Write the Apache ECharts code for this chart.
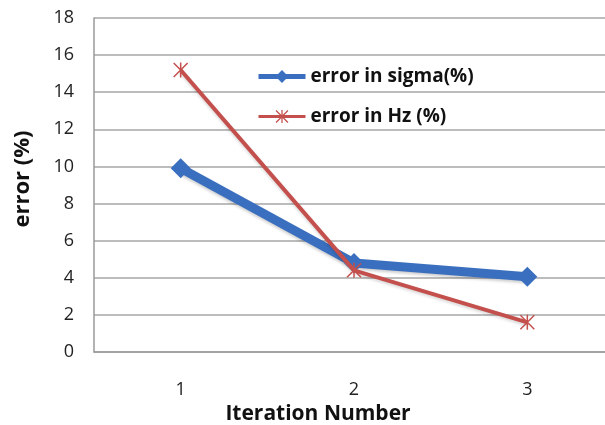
<!DOCTYPE html>
<html>
<head>
<meta charset="utf-8">
<script src="https://cdn.jsdelivr.net/npm/echarts@6/dist/echarts.min.js"></script>
<style>
  html, body { margin: 0; padding: 0; background: #fff; }
  #chart { width: 605px; height: 425px; }
</style>
</head>
<body>
<div id="chart"></div>
<script>
// Iteration numbers on the x axis
const iterations = ['1', '2', '3'];
// Error values in percent for each iteration
const errorSigma = [9.9, 4.8, 4.05];
const errorHz = [15.2, 4.4, 1.6];
const seriesNames = ['error in sigma(%)', 'error in Hz (%)'];

// Six-armed asterisk marker built from three thin bars
const asterisk = 'path://M0,0.7L0.7,0L10,9.3L9.3,10Z M9.3,0L10,0.7L0.7,10L0,9.3Z M4.5,0L5.5,0L5.5,10L4.5,10Z';

const font = 'Open Sans, sans-serif';
const blue = '#3a6fc0';
const red = '#c4504d';
const chart = echarts.init(document.getElementById('chart'), null, { renderer: 'canvas' });

chart.setOption({
  animation: false,
  backgroundColor: '#ffffff',
  grid: { left: 94, top: 18, width: 520, height: 334, outerBoundsMode: 'none', containLabel: false },
  legend: {
    orient: 'vertical',
    left: 251,
    top: 62,
    itemWidth: 47,
    itemHeight: 16,
    itemGap: 21,
    textStyle: { fontFamily: font, fontWeight: 'bold', fontSize: 19, color: '#111' },
    data: [
      { name: seriesNames[0], lineStyle: { width: 5, color: blue } },
      { name: seriesNames[1], lineStyle: { width: 3, color: red } }
    ]
  },
  xAxis: {
    type: 'category',
    data: iterations,
    boundaryGap: true,
    axisLine: { lineStyle: { color: '#9a9a9a', width: 1.5 } },
    axisTick: { show: false },
    axisLabel: { margin: 29, fontFamily: font, fontSize: 18, color: '#222' },
    name: 'Iteration Number',
    nameLocation: 'middle',
    nameGap: 52,
    nameTextStyle: { fontFamily: font, fontWeight: 'bold', fontSize: 21, color: '#111', padding: [0, 72, 0, 0] }
  },
  yAxis: {
    type: 'value',
    min: 0,
    max: 18,
    interval: 2,
    axisLine: { show: true, lineStyle: { color: '#9a9a9a', width: 1.5 } },
    axisTick: { show: false },
    axisLabel: { margin: 20, fontFamily: font, fontSize: 18, color: '#222' },
    splitLine: { lineStyle: { color: '#a6a6a6', width: 1.5 } },
    name: 'error (%)',
    nameLocation: 'middle',
    nameRotate: 90,
    nameGap: 60,
    nameTextStyle: { fontFamily: font, fontWeight: 'bold', fontSize: 22, color: '#111', padding: [0, 0, 0, 12] }
  },
  series: [
    {
      name: seriesNames[0],
      type: 'line',
      data: errorSigma,
      symbol: 'diamond',
      symbolSize: 20,
      lineStyle: { color: blue, width: 9, shadowColor: 'rgba(0,0,0,0.2)', shadowBlur: 3, shadowOffsetY: 2 },
      itemStyle: { color: blue },
      z: 2
    },
    {
      name: seriesNames[1],
      type: 'line',
      data: errorHz,
      symbol: asterisk,
      symbolSize: 15,
      lineStyle: { color: red, width: 4, shadowColor: 'rgba(0,0,0,0.15)', shadowBlur: 3, shadowOffsetY: 2 },
      itemStyle: { color: red },
      z: 3
    }
  ]
});
</script>
</body>
</html>
